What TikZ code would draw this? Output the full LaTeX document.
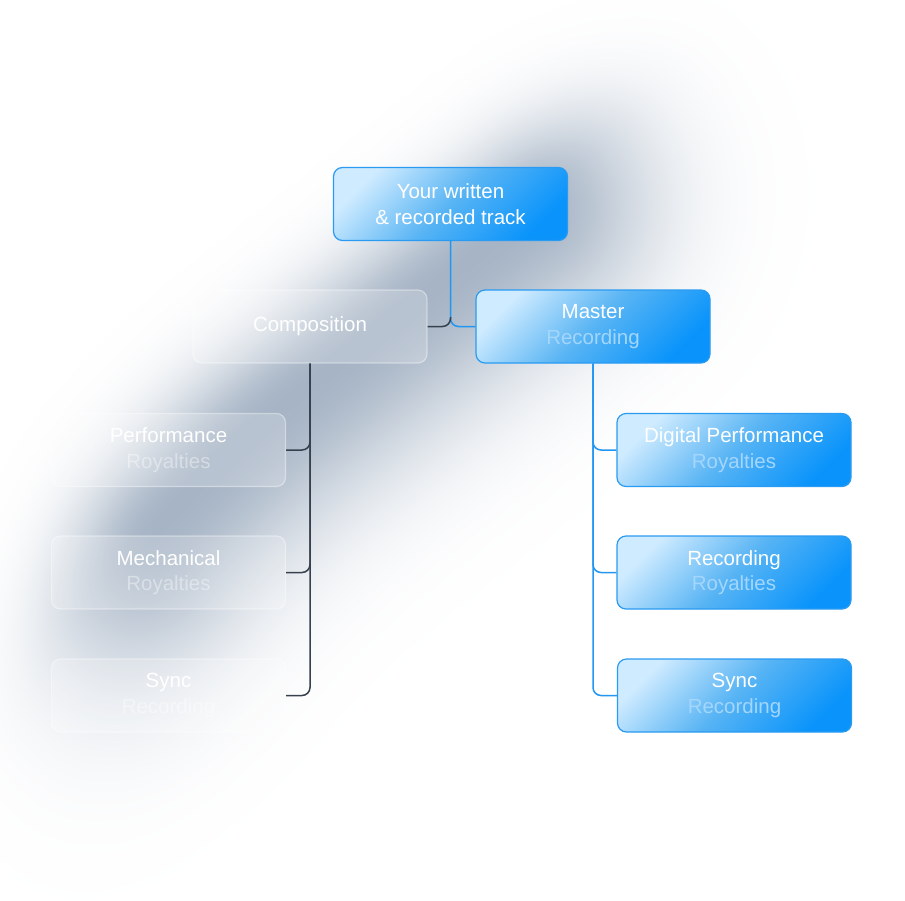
\documentclass[tikz,border=0pt]{standalone}
\usepackage{fontspec}
\setmainfont{Liberation Sans}
\definecolor{bluetop}{HTML}{CFEBFF}
\definecolor{bluemid}{HTML}{58B4F4}
\definecolor{bluebot}{HTML}{0A94FB}
\definecolor{boxedge}{HTML}{2A9BF2}
\definecolor{bluesub}{HTML}{A3D6FC}
\definecolor{linkblue}{HTML}{2196F3}
\definecolor{linkdark}{HTML}{37414D}
\pgfdeclarefunctionalshading{glowfn}{\pgfpoint{0bp}{0bp}}{\pgfpoint{905bp}{900bp}}{}{
  1.00375 mul 900 exch sub
  exch 1.00375 mul exch
  418 sub exch 305 sub
  2 copy
  0.788 mul exch 0.616 mul sub
  3 1 roll
  -0.616 mul exch -0.788 mul add
  1 index dup 0 lt { 300 div dup mul 50 mul } { pop 0 } ifelse add
  25 sub dup 0 gt { 75 div } { 120 div } ifelse
  dup mul neg 2.71828 exch exp
  exch
  dup 300 gt { 300 sub 130 div dup mul neg 2.71828 exch exp }
  { dup -180 lt { 180 add 150 div dup mul neg 2.71828 exch exp } { pop 1 } ifelse } ifelse
  mul
  dup 0.349 mul 1 exch sub
  exch dup 0.294 mul 1 exch sub
  exch 0.227 mul 1 exch sub
}
\newcommand\fadetxt{\pgfsetfillopacity{0.4}}
\begin{document}
\begin{tikzpicture}[x=1pt,y=-1pt,
 box/.style={rounded corners=9pt, minimum width=234pt, minimum height=73pt, inner sep=0pt, align=center, font=\fontsize{20.5}{25.5}\selectfont, text=white, line width=1.2pt},
 bluebox/.style={box, draw=boxedge, top color=bluetop, bottom color=bluebot, middle color=bluemid, shading angle=45},
 graybox/.style={box, fill=white, fill opacity=0.2, draw=white, draw opacity=0.4, text opacity=1},
 bluelink/.style={draw=linkblue, line width=1.5pt, rounded corners=8pt},
 darklink/.style={draw=linkdark, line width=1.5pt, rounded corners=8pt}]
\fill[white] (0,0) rectangle (905,900);
\useasboundingbox (0,0) rectangle (905,900);
% soft diagonal glow
\node[inner sep=0pt, outer sep=0pt, anchor=south west] (glow) at (0,900) {\pgfuseshading{glowfn}};
% boxes
\node[bluebox] (top) at (450.5,204) {Your written\\\& recorded track};
\node[graybox] (comp) at (310,326.5) {Composition};
\node[bluebox] (master) at (593,326.5) {Master\\{\color{bluesub}Recording}};
\node[graybox] (perf) at (168.5,450) {Performance\\\fadetxt Royalties};
\node[graybox] (mech) at (168.5,572.5) {Mechanical\\\fadetxt Royalties};
\node[graybox] (synl) at (168.5,695.5) {Sync\\\fadetxt Recording};
\node[bluebox] (dig) at (734,450) {Digital Performance\\{\color{bluesub}Royalties}};
\node[bluebox] (rec) at (734,572.5) {Recording\\{\color{bluesub}Royalties}};
\node[bluebox] (synr) at (734.5,695.5) {Sync\\{\color{bluesub}Recording}};
% connectors
\draw[bluelink] (top.south) |- (master.west);
\draw[darklink] (top.south) ++(0,76) |- (comp.east);
\draw[darklink] (comp.south) |- (perf.east);
\draw[darklink] (comp.south) |- (mech.east);
\draw[darklink] (comp.south) |- (synl.east);
\draw[bluelink] (master.south) |- (dig.west);
\draw[bluelink] (master.south) |- (rec.west);
\draw[bluelink] (master.south) |- (synr.west);
\end{tikzpicture}
\end{document}
